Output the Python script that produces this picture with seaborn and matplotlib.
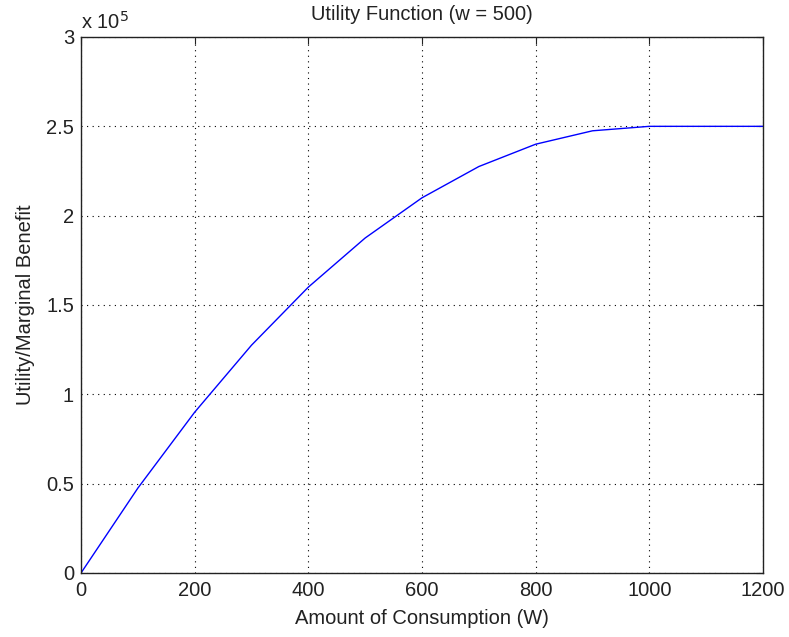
import matplotlib
matplotlib.use("Agg")
import matplotlib.pyplot as plt
import seaborn as sns
import pandas as pd
from matplotlib.ticker import FuncFormatter

consumption = [0, 100, 200, 300, 400, 500, 600, 700, 800, 900, 1000, 1100, 1200]
utility = [0, 47500, 90000, 127500, 160000, 187500, 210000, 227500, 240000, 247500, 250000, 250000, 250000]
x_ticks = [0, 200, 400, 600, 800, 1000, 1200]
y_ticks = [0, 50000, 100000, 150000, 200000, 250000, 300000]

sns.set_style("white")
plt.rcParams['font.family'] = ['Liberation Sans', 'DejaVu Sans']

df = pd.DataFrame({"x": consumption, "u": utility})

FS = 14.5
fig = plt.figure(figsize=(7.89, 6.37), dpi=100)
ax = fig.add_axes([81/789, 1 - 573/637, (763 - 81)/789, (573 - 37)/637])
sns.lineplot(data=df, x="x", y="u", ax=ax, color=(0, 0, 1), linewidth=1.0)

ax.set_xlim(0, 1200)
ax.set_ylim(0, 300000)
ax.set_xticks(x_ticks)
ax.set_yticks(y_ticks)
ax.yaxis.set_major_formatter(FuncFormatter(lambda v, p: f"{v/1e5:g}"))
ax.grid(True, color="black", linestyle=(0, (1, 4)), linewidth=0.8)
ax.tick_params(direction="in", length=5, width=0.8, labelsize=FS, colors="#222222",
               top=True, right=True, labelcolor="#222222")
ax.tick_params(axis="x", pad=6)
ax.tick_params(axis="y", pad=5)
for s in ax.spines.values():
    s.set_color("#222222")
    s.set_linewidth(1.0)

ax.set_xlabel("Amount of Consumption (W)", fontsize=FS, labelpad=6, color="#222222")
ax.set_ylabel("Utility/Marginal Benefit", fontsize=FS, labelpad=8, color="#222222")
ax.set_title("Utility Function (w = 500)", fontsize=FS, pad=12, color="#222222")
ax.text(0.0, 1.008, r"x 10$^{5}$", transform=ax.transAxes, fontsize=FS, ha="left", va="bottom",
        color="#222222")

fig.savefig("out.png", dpi=100)
